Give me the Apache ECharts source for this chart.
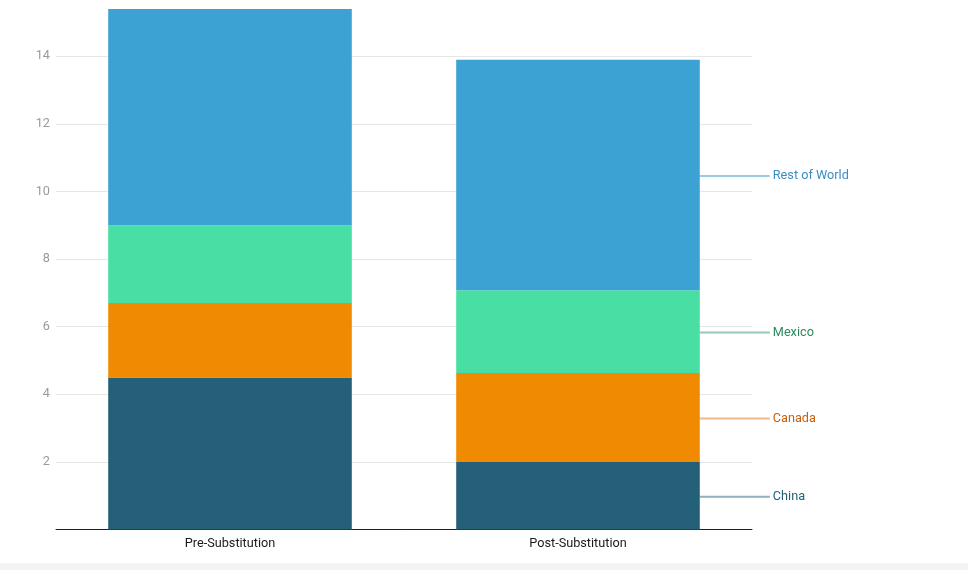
<!DOCTYPE html>
<html>
<head>
<meta charset="utf-8">
<script src="https://cdn.jsdelivr.net/npm/echarts@6/dist/echarts.min.js"></script>
<style>
  html, body { margin: 0; padding: 0; background: #f3f3f3; }
  #main { width: 968px; height: 563px; background: #fff; box-shadow: 0 1px 2px rgba(0,0,0,0.08); }
</style>
</head>
<body>
<div id="main"></div>
<script>
var categories = ['Pre-Substitution', 'Post-Substitution'];
var seriesNames = ['China', 'Canada', 'Mexico', 'Rest of World'];
var china = [4.5, 2.0];
var canada = [2.2, 2.63];
var mexico = [2.3, 2.45];
var restOfWorld = [6.4, 6.82];
var yTicks = [2, 4, 6, 8, 10, 12, 14];

var barColors = ['#256079', '#f08a00', '#48dea4', '#3ca2d3'];
var lineColors = ['rgba(37,96,121,0.5)', 'rgba(232,138,60,0.6)', 'rgba(40,150,100,0.5)', 'rgba(60,150,200,0.5)'];
var textColors = ['#245f7a', '#c65f0e', '#2a8a5e', '#3a8ec2'];

var allData = [china, canada, mexico, restOfWorld];

function buildSeries(idx) {
    var vals = allData[idx];
    var last = vals.length - 1;
    return {
        name: seriesNames[idx],
        type: 'bar',
        stack: 'total',
        barWidth: '70%',
        itemStyle: { color: barColors[idx] },
        data: vals.map(function (v, i) {
            if (i !== last) return v;
            return {
                value: v,
                label: {
                    show: true,
                    position: 'right',
                    distance: 0,
                    offset: [0, 1],
                    formatter: '{line|}{txt|' + seriesNames[idx] + '}',
                    rich: {
                        line: { width: 70, height: 2, backgroundColor: lineColors[idx], verticalAlign: 'middle' },
                        txt: { color: textColors[idx], fontSize: 12.7, padding: [0, 0, 0, 3], fontFamily: 'Roboto', verticalAlign: 'middle' }
                    }
                }
            };
        })
    };
}

var option = {
    animation: false,
    textStyle: { fontFamily: 'Roboto' },
    grid: { left: 56, right: 216, top: 9, bottom: 33.5, containLabel: false },
    xAxis: {
        type: 'category',
        data: categories,
        axisLine: { lineStyle: { color: '#222', width: 1 } },
        axisTick: { show: false },
        axisLabel: { color: '#1a1a1a', fontSize: 12.7, margin: 8 }
    },
    yAxis: {
        type: 'value',
        min: 0,
        max: 15.4,
        interval: 2,
        axisLine: { show: false },
        axisTick: { show: false },
        axisLabel: {
            color: '#9a9a9a', fontSize: 12.7, margin: 6,
            showMinLabel: false, showMaxLabel: false,
            formatter: function (v) { return yTicks.indexOf(v) >= 0 ? v : ''; }
        },
        splitLine: { showMaxLine: false, lineStyle: { color: '#e6e6e6' } }
    },
    series: [0, 1, 2, 3].map(buildSeries)
};

var myChart = echarts.init(document.getElementById('main'));
myChart.setOption(option);
</script>
</body>
</html>
